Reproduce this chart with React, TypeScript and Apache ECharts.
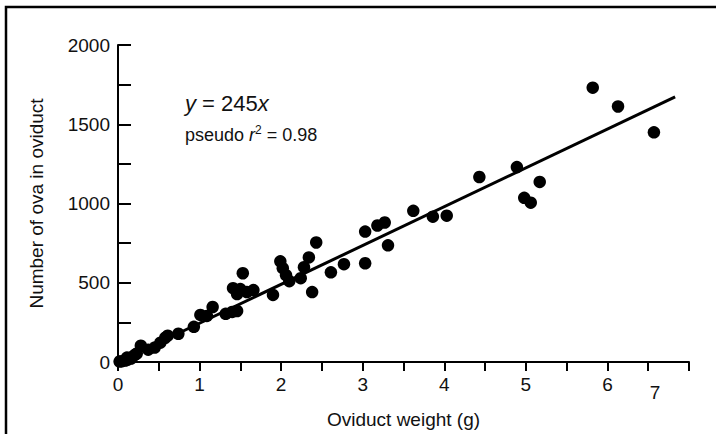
import React, { useEffect, useRef } from "react";
import * as echarts from "echarts";

// Oviduct weight (g) and number of ova in oviduct
const oviductWeight = [
  0.02, 0.05, 0.09, 0.11, 0.12, 0.16, 0.18, 0.21, 0.23, 0.28,
  0.37, 0.45, 0.52, 0.58, 0.61, 0.74, 0.93, 1.01, 1.09, 1.16,
  1.32, 1.40, 1.46, 1.41, 1.46, 1.50, 1.53, 1.58, 1.66, 1.90,
  1.99, 2.02, 2.06, 2.10, 2.24, 2.28, 2.34, 2.43, 2.38, 2.61,
  2.77, 3.03, 3.03, 3.18, 3.27, 3.31, 3.62, 3.86, 4.03, 4.43,
  4.89, 4.98, 5.06, 5.17, 5.82, 6.13, 6.57,
];
const ovaCount = [
  3, 5, 9, 28, 16, 22, 34, 47, 53, 103,
  78, 91, 122, 153, 166, 178, 222, 297, 291, 347,
  304, 316, 322, 466, 429, 460, 560, 441, 454, 423,
  635, 592, 548, 510, 529, 598, 660, 754, 441, 566,
  617, 623, 823, 861, 880, 736, 954, 917, 923, 1167,
  1230, 1036, 1005, 1136, 1731, 1612, 1449,
];

// Fitted model y = 245x, drawn up to the last weight of the fitted line
const fitSlope = 245;
const fitXMax = 6.83;

const xTickLabels = ["0", "1", "2", "3", "4", "5", "6"];
const lastXTickLabel = "7";
const yTickLabels = ["0", "500", "1000", "1500", "2000"];

const FONT = "'Liberation Sans', Arial, Helvetica, sans-serif";

export default function App() {
  const ref = useRef<HTMLDivElement>(null);

  useEffect(() => {
    if (!ref.current) return;
    const chart = echarts.init(ref.current, null, { renderer: "svg" });
    const points = oviductWeight.map((w, i) => [w, ovaCount[i]]);
    const fitLine = [
      [0, 0],
      [fitXMax, fitSlope * fitXMax],
    ];

    chart.setOption({
      animation: false,
      backgroundColor: "#ffffff",
      grid: { left: 118, right: 27, top: 45, bottom: 69.5 },
      xAxis: {
        type: "value",
        min: 0,
        max: 7,
        interval: 0.5,
        name: "Oviduct weight (g)",
        nameLocation: "middle",
        nameGap: 48,
        nameTextStyle: { fontFamily: FONT, fontSize: 19, color: "#111" },
        splitLine: { show: false },
        axisLine: { lineStyle: { color: "#000", width: 2 } },
        axisTick: { length: 9, lineStyle: { color: "#000", width: 2 } },
        axisLabel: {
          margin: 13,
          fontFamily: FONT,
          fontSize: 19,
          color: "#111",
          formatter: (v: number) =>
            xTickLabels.includes(String(v)) ? String(v) : "",
        },
      },
      yAxis: {
        type: "value",
        min: 0,
        max: 2000,
        interval: 250,
        name: "Number of ova in oviduct",
        nameLocation: "middle",
        nameRotate: 90,
        nameGap: 72,
        nameTextStyle: { fontFamily: FONT, fontSize: 19, color: "#111" },
        splitLine: { show: false },
        axisLine: { show: true, lineStyle: { color: "#000", width: 2 } },
        axisTick: {
          show: true,
          inside: true,
          length: 13,
          lineStyle: { color: "#000", width: 2 },
        },
        axisLabel: {
          margin: 8,
          fontFamily: FONT,
          fontSize: 19,
          color: "#111",
          formatter: (v: number) =>
            yTickLabels.includes(String(v)) ? String(v) : "",
        },
      },
      series: [
        {
          type: "line",
          data: fitLine,
          showSymbol: false,
          silent: true,
          lineStyle: { color: "#000", width: 3 },
          z: 2,
        },
        {
          type: "scatter",
          data: points,
          symbol: "circle",
          symbolSize: 12.5,
          itemStyle: { color: "#000", opacity: 1 },
          z: 3,
        },
      ],
      graphic: [
        {
          type: "rect",
          shape: { x: 6, y: 7, width: 800, height: 500 },
          style: { fill: "none", stroke: "#000", lineWidth: 2.5 },
          silent: true,
        },
        {
          type: "text",
          x: 655,
          y: 392,
          style: {
            text: lastXTickLabel,
            fontFamily: FONT,
            fontSize: 19,
            fill: "#111",
            align: "center",
            verticalAlign: "middle",
          },
        },
        {
          type: "text",
          x: 185,
          y: 103,
          style: {
            text: "{i|y} = 245{i|x}",
            fontFamily: FONT,
            fontSize: 22,
            fill: "#111",
            verticalAlign: "middle",
            rich: {
              i: { fontFamily: FONT, fontSize: 22, fontStyle: "italic", fill: "#111" },
            },
          },
        },
        {
          type: "text",
          x: 185,
          y: 135,
          style: {
            text: "pseudo {i|r}{sup|2} = 0.98",
            fontFamily: FONT,
            fontSize: 18,
            fill: "#111",
            verticalAlign: "middle",
            rich: {
              i: { fontFamily: FONT, fontSize: 18, fontStyle: "italic", fill: "#111", lineHeight: 22 },
              sup: { fontFamily: FONT, fontSize: 12, fill: "#111", verticalAlign: "top", lineHeight: 22 },
            },
          },
        },
      ],
    });

    return () => chart.dispose();
  }, []);

  return (
    <div
      ref={ref}
      style={{ position: "fixed", left: 0, top: 0, width: 716, height: 434 }}
    />
  );
}
